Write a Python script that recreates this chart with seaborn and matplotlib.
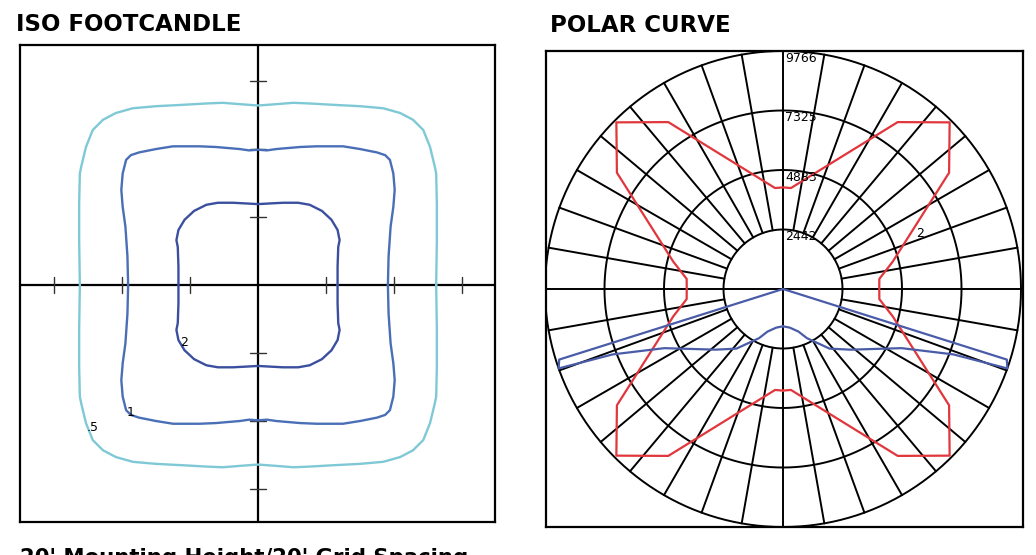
import numpy as np
import pandas as pd
import matplotlib
matplotlib.use('Agg')
import matplotlib.pyplot as plt
import seaborn as sns

sns.set_style('white')
plt.rcParams['font.family'] = ['DejaVu Sans']
plt.rcParams['text.color'] = 'black'

# ISO footcandle contours, first quadrant only (grid units), mirrored to the rest
iso_05_x = [2.62, 2.63, 2.63, 2.62, 2.60, 2.53, 2.43, 2.28, 2.09, 1.84, 1.50, 1.11, 0.76, 0.52, 0.27, 0.0]
iso_05_y = [0.0, 0.66, 1.20, 1.64, 1.74, 2.03, 2.28, 2.43, 2.53, 2.60, 2.63, 2.65, 2.67, 2.68, 2.66, 2.64]
iso_1_x = [1.91, 1.92, 1.95, 1.99, 2.01, 1.99, 1.94, 1.87, 1.75, 1.50, 1.25, 0.86, 0.62, 0.27, 0.13, 0.0]
iso_1_y = [0.0, 0.42, 0.86, 1.15, 1.40, 1.64, 1.84, 1.91, 1.95, 2.00, 2.04, 2.04, 2.03, 2.00, 1.98, 1.99]
iso_2_x = [1.17, 1.17, 1.18, 1.20, 1.17, 1.08, 0.94, 0.76, 0.59, 0.37, 0.18, 0.0]
iso_2_y = [0.0, 0.27, 0.56, 0.66, 0.81, 0.96, 1.09, 1.18, 1.21, 1.21, 1.20, 1.19]

iso_levels = ['.5', '1', '2']
iso_colors = {'.5': '#7fc9d6', '1': '#4a6fb7', '2': '#3b4f9f'}
iso_label_x = [-2.43, -1.87, -1.09]
iso_label_y = [-2.09, -1.88, -0.85]
grid_ticks = [-3, -2, -1, 1, 2, 3]

# polar curve: angle from nadir (deg) and candela, same on both sides
ring_values = [2442, 4883, 7325, 9766]
red_angles = [0, 4.5, 34.5, 45, 55, 76, 84, 90, 96, 104, 125, 135, 145.5, 175.5, 180]
red_cd = [4170, 4155, 8310, 9670, 8320, 4640, 3975, 3950, 3975, 4640, 8320, 9670, 8310, 4155, 4170]
blue_angles = [0, 10, 20, 26, 38, 48, 63.5, 69, 70.5, 72.5, 90]
blue_cd = [1530, 1610, 1860, 2245, 3105, 3720, 5440, 7490, 9766, 9630, 0]
curve_colors = {'red': '#e0363c', 'blue': '#4a5ca8'}


def full_loop(qx, qy):
    qx = np.array(qx)
    qy = np.array(qy)
    xs = np.concatenate([qx, -qx[::-1], -qx, qx[::-1]])
    ys = np.concatenate([qy, qy[::-1], -qy, -qy[::-1]])
    return xs, ys


def polar_xy(angles, cd):
    a = np.radians(np.array(angles))
    r = np.array(cd) / ring_values[-1]
    # left side going out, right side coming back
    xs = np.concatenate([-(r * np.sin(a)), (r * np.sin(a))[::-1]])
    ys = np.concatenate([-(r * np.cos(a)), -(r * np.cos(a))[::-1]])
    return xs, ys


frames = []
for lvl, qx, qy in zip(iso_levels, [iso_05_x, iso_1_x, iso_2_x], [iso_05_y, iso_1_y, iso_2_y]):
    xs, ys = full_loop(qx, qy)
    frames.append(pd.DataFrame({'x': xs, 'y': ys, 'level': lvl}))
iso_df = pd.concat(frames, ignore_index=True)

frames = []
for name, ang, cd in [('red', red_angles, red_cd), ('blue', blue_angles, blue_cd)]:
    xs, ys = polar_xy(ang, cd)
    frames.append(pd.DataFrame({'x': xs, 'y': ys, 'curve': name}))
polar_df = pd.concat(frames, ignore_index=True)

fig = plt.figure(figsize=(10.36, 5.55), dpi=100)
W, H = 1036, 555
ax1 = fig.add_axes([20 / W, 1 - 522 / H, 475 / W, 477 / H])
ax2 = fig.add_axes([546 / W, 1 - 527 / H, 477 / W, 476 / H])

# ---- ISO footcandle ----
ax1.axhline(0, color='black', lw=1.6, zorder=1)
ax1.axvline(0, color='black', lw=1.6, zorder=1)
for t in grid_ticks:
    ax1.plot([t, t], [-0.115, 0.115], color='#333333', lw=1.0, zorder=1)
    ax1.plot([-0.115, 0.115], [t, t], color='#333333', lw=1.0, zorder=1)

for lvl in iso_levels:
    sns.lineplot(data=iso_df[iso_df['level'] == lvl], x='x', y='y', sort=False,
                 estimator=None, color=iso_colors[lvl], lw=1.7, ax=ax1, zorder=3)
for lbl, lx, ly in zip(iso_levels, iso_label_x, iso_label_y):
    ax1.text(lx, ly, lbl, fontsize=9, ha='center', va='center', color='black', zorder=4)

ax1.set_xlim(-3.5, 3.485)
ax1.set_ylim(-3.485, 3.53)
ax1.set_xticks([])
ax1.set_yticks([])
ax1.set_xlabel('')
ax1.set_ylabel('')
for s in ax1.spines.values():
    s.set_color('black')
    s.set_linewidth(1.6)

# ---- polar curve ----
theta = np.linspace(0, 2 * np.pi, 361)
for rv in ring_values:
    r = rv / ring_values[-1]
    ax2.plot(r * np.cos(theta), r * np.sin(theta), color='black', lw=1.4, zorder=1)
for deg in range(0, 360, 10):
    if deg % 90 == 0:
        continue
    a = np.radians(deg)
    r0 = ring_values[0] / ring_values[-1]
    ax2.plot([r0 * np.cos(a), np.cos(a)], [r0 * np.sin(a), np.sin(a)], color='black', lw=1.4, zorder=1)
ax2.axhline(0, color='black', lw=1.4, zorder=1)
ax2.axvline(0, color='black', lw=1.4, zorder=1)

for name in ['red', 'blue']:
    sns.lineplot(data=polar_df[polar_df['curve'] == name], x='x', y='y', sort=False,
                 estimator=None, color=curve_colors[name], lw=1.6, ax=ax2, zorder=3)

for rv in ring_values:
    ax2.text(0.008, rv / ring_values[-1] - 0.004, str(rv), fontsize=9, ha='left', va='top',
             color='black', zorder=4)
ax2.text(0.576, 0.235, '2', fontsize=9, ha='center', va='center', color='black', zorder=4)

ax2.set_xlim(-237 / 238, 240 / 238)
ax2.set_ylim(-1.0, 1.0)
ax2.set_xticks([])
ax2.set_yticks([])
ax2.set_xlabel('')
ax2.set_ylabel('')
for s in ax2.spines.values():
    s.set_color('black')
    s.set_linewidth(1.6)

# ---- titles ----
fig.text(16 / W, 1 - 31 / H, 'ISO FOOTCANDLE', fontsize=16.5, fontweight='bold', va='baseline',
         color='black')
fig.text(550 / W, 1 - 31.5 / H, 'POLAR CURVE', fontsize=16.5, fontweight='bold', va='baseline',
         color='black')
fig.text(20 / W, 1 - 548.5 / H, "20' Mounting Height/20' Grid Spacing", fontsize=15.3,
         fontweight='bold', va='top', color='black')

fig.savefig('out.png', dpi=100)
